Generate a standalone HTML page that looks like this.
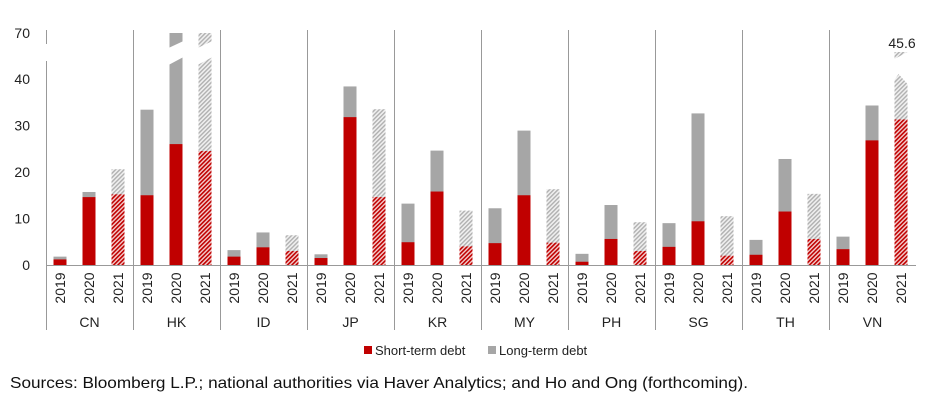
<!DOCTYPE html><html><head><meta charset="utf-8"><style>body{margin:0;background:#fff}svg{display:block;font-family:"Liberation Sans",sans-serif}</style></head><body>
<svg id="c" width="940" height="400" viewBox="0 0 940 400" xmlns="http://www.w3.org/2000/svg">
<defs>
<pattern id="hr" width="3" height="3" patternUnits="userSpaceOnUse" patternTransform="rotate(45)"><rect width="3" height="3" fill="#f4d0d0"/><rect width="1.6" height="3" fill="#c00000"/></pattern>
<pattern id="hg" width="3" height="3" patternUnits="userSpaceOnUse" patternTransform="rotate(45)"><rect width="3" height="3" fill="#f0f0f0"/><rect width="1.4" height="3" fill="#b0b0b0"/></pattern>
</defs>
<g id="g"></g>
</svg>
<script>
var g=document.getElementById('g'),h='';
var Y=v=>265-v*4.65;
[[0,265],[10,218.5],[20,172],[30,125.5],[40,79],[70,33]].forEach(a=>{h+='<text x="30" y="'+(a[1]+5)+'" font-size="14" text-anchor="end" fill="#222">'+a[0]+'</text>';});
h+='<line x1="46.5" y1="30" x2="46.5" y2="44" stroke="#999"/><line x1="46.5" y1="61" x2="46.5" y2="330" stroke="#999"/>';
var seps=[133,220,307,394,481,568,655,742,829];
seps.forEach(x=>{h+='<line x1="'+(x+.5)+'" y1="30" x2="'+(x+.5)+'" y2="330" stroke="#999"/>';});
var names=['CN','HK','ID','JP','KR','MY','PH','SG','TH','VN'];
var d=[[[1.8,1.2],[15.7,14.6],[20.6,15.2]],[[33.4,15],[99,26],[99,24.5]],[[3.2,1.8],[7,3.8],[6.4,3]],[[2.3,1.5],[38.4,31.8],[33.5,14.6]],[[13.2,4.9],[24.6,15.8],[11.7,4]],[[12.2,4.7],[28.9,15],[16.3,4.8]],[[2.4,0.7],[12.9,5.6],[9.2,3]],[[9,3.9],[32.6,9.4],[10.5,2]],[[5.4,2.2],[22.8,11.5],[15.3,5.6]],[[6.1,3.4],[34.3,26.8],[45.6,31.3]]];
var bars='';
names.forEach((n,i)=>{var x0=46+i*87;
 [14,43,72].forEach((o,j)=>{var cx=x0+o,x=cx-6.5,t=d[i][j][0],s=d[i][j][1],hat=j==2;
  var gf=hat?'url(#hg)':'#a6a6a6',rf=hat?'url(#hr)':'#c00000';
  if(t>90){bars+='<rect x="'+x+'" y="33" width="13" height="'+(265-33)+'" fill="'+gf+'"/>';
   bars+='<polygon points="'+(x-1)+',48 '+(x+14)+',41 '+(x+14)+',57 '+(x-1)+',65" fill="#fff"/>';}
  else if(t>40){bars+='<polygon points="'+x+',265 '+x+',80 '+(x+4)+',74 '+(x+13)+',84 '+(x+13)+',265" fill="'+gf+'"/>';
   bars+='<polygon points="'+x+',52 '+(x+13)+',52 '+x+',59" fill="url(#hg)"/>';
   bars+='<text x="'+(cx+1)+'" y="48" font-size="14" text-anchor="middle" fill="#222">45.6</text>';}
  else bars+='<rect x="'+x+'" y="'+Y(t)+'" width="13" height="'+(t*4.65)+'" fill="'+gf+'"/>';
  bars+='<rect x="'+x+'" y="'+Y(s)+'" width="13" height="'+(s*4.65)+'" fill="'+rf+'"/>';
  h+='<text transform="translate('+(cx+5)+',288) rotate(-90)" font-size="14" text-anchor="middle" fill="#222">'+(2019+j)+'</text>';
 });
 h+='<text x="'+(x0+43.5)+'" y="327" font-size="14" text-anchor="middle" fill="#222">'+n+'</text>';
});
h+=bars+'<line x1="46" y1="265.5" x2="916" y2="265.5" stroke="#999"/>';
h+='<rect x="364" y="346" width="8" height="8" fill="#c00000"/><text x="375" y="355" font-size="13" fill="#222">Short-term debt</text>';
h+='<rect x="488" y="346" width="8" height="8" fill="#a6a6a6"/><text x="499" y="355" font-size="13" fill="#222">Long-term debt</text>';
h+='<text x="10" y="388" font-size="16" textLength="738" lengthAdjust="spacingAndGlyphs" fill="#111">Sources: Bloomberg L.P.; national authorities via Haver Analytics; and Ho and Ong (forthcoming).</text>';
g.innerHTML=h;
</script>
</body></html>
